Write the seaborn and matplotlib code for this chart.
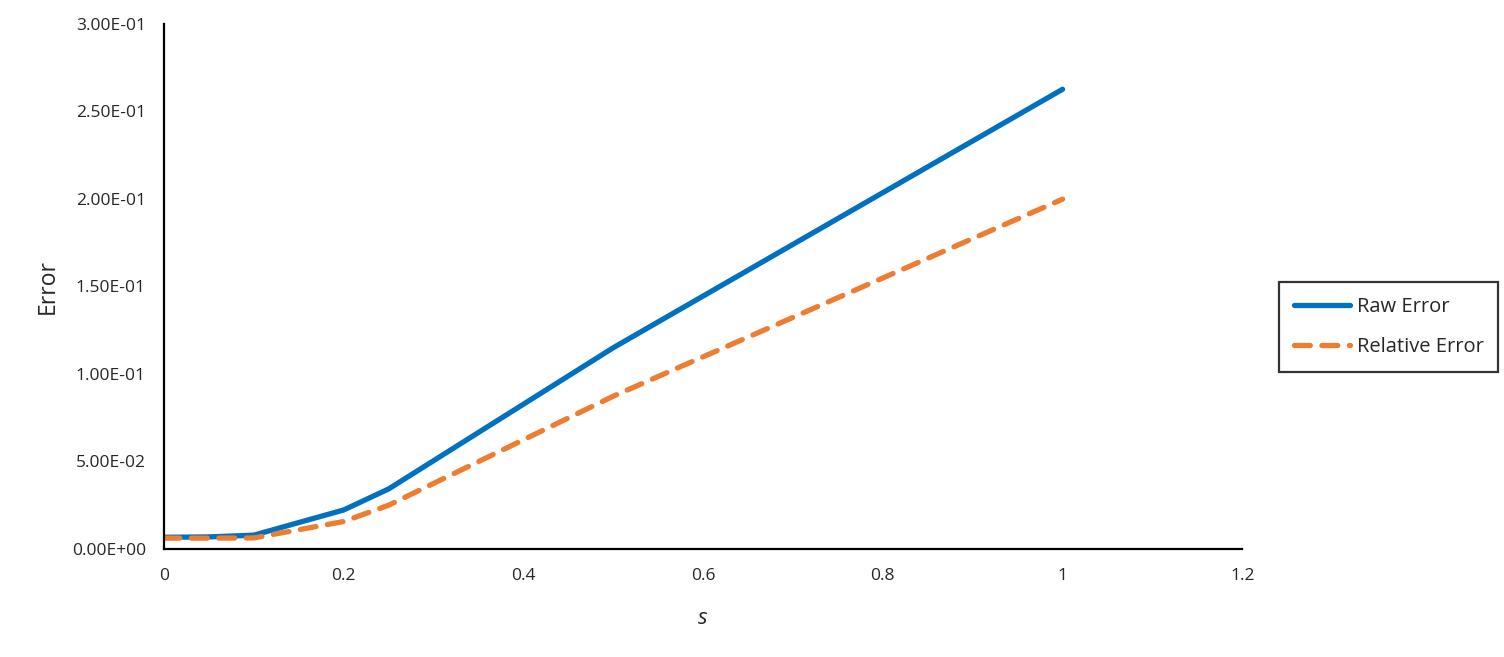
import numpy as np
import pandas as pd
import matplotlib
matplotlib.use('Agg')
import matplotlib.pyplot as plt
import seaborn as sns
from matplotlib.ticker import FuncFormatter, MultipleLocator

# values
s_vals = [0, 0.05, 0.1, 0.2, 0.25, 0.5, 1.0]
raw_error = [0.0067, 0.0069, 0.0079, 0.0223, 0.0343, 0.1150, 0.2627]
rel_error = [0.0062, 0.0062, 0.0063, 0.0157, 0.0250, 0.0873, 0.1999]

df = pd.DataFrame({
    's': s_vals * 2,
    'Error': raw_error + rel_error,
    'series': ['Raw Error'] * len(s_vals) + ['Relative Error'] * len(s_vals),
})

sns.set_style('white')
plt.rcParams['font.family'] = ['Open Sans', 'DejaVu Sans']

fig = plt.figure(figsize=(15.04, 6.57), dpi=100)
ax = fig.add_axes([0.109, 0.1644, 0.717, 0.7991])

ax = sns.lineplot(data=df, x='s', y='Error', hue='series', style='series',
                  palette={'Raw Error': '#0070C0', 'Relative Error': '#ED7D31'},
                  dashes={'Raw Error': '', 'Relative Error': (3, 2.2)},
                  linewidth=3.8, ax=ax)
for line in ax.lines:
    line.set_solid_capstyle('round')
    line.set_dash_capstyle('round')

ax.set_xlim(0, 1.2)
ax.set_ylim(0, 0.3)
ax.xaxis.set_major_locator(MultipleLocator(0.2))
ax.yaxis.set_major_locator(MultipleLocator(0.05))
ax.xaxis.set_major_formatter(FuncFormatter(lambda v, p: '{:g}'.format(round(v, 2))))
ax.yaxis.set_major_formatter(FuncFormatter(lambda v, p: '{:.2E}'.format(v)))
ax.tick_params(axis='both', length=0, labelsize=12.5)
ax.tick_params(axis='y', pad=13)
ax.tick_params(axis='x', pad=14)

for side in ['top', 'right']:
    ax.spines[side].set_visible(False)
for side in ['left', 'bottom']:
    ax.spines[side].set_color('black')
    ax.spines[side].set_linewidth(1.6)

ax.set_xlabel('s', fontsize=16, style='italic', labelpad=17)
ax.set_ylabel('Error', fontsize=16.5, labelpad=9)

leg = ax.legend(loc='center left', bbox_to_anchor=(1.034, 0.423), fontsize=14.5,
                frameon=True, fancybox=False, handlelength=2.8, borderpad=0.75,
                labelspacing=1.0, handletextpad=0.3, borderaxespad=0)
leg.get_frame().set_edgecolor('black')
leg.get_frame().set_linewidth(1.6)

fig.savefig('out.png', dpi=100)
plt.close()
